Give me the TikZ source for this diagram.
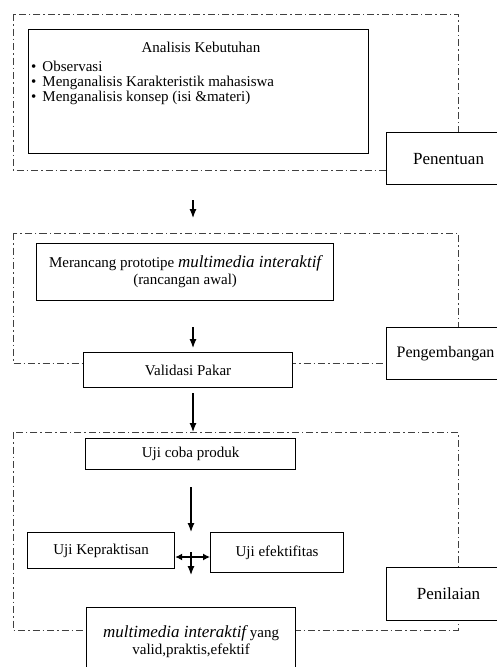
\documentclass[tikz,border=0pt]{standalone}
\usepackage{fontspec}
\setmainfont{Liberation Serif}
\usetikzlibrary{positioning, arrows.meta}

\begin{document}
\begin{tikzpicture}[x=1pt, y=-1pt,
    box/.style={draw, line width=1.2pt, fill=white, inner sep=0pt, align=center, font=\fontsize{15}{17}\selectfont},
    phase/.style={draw, line width=1.2pt, fill=white, inner sep=0pt, anchor=north west, minimum width=124, minimum height=52, font=\fontsize{17}{19}\selectfont},
    stage/.style={draw=black!75, line width=0.9pt, dash pattern=on 7pt off 3pt on 1.5pt off 3pt},
    flow/.style={-{Latex[length=9pt, width=7pt]}, line width=1.2pt},
    txt/.style={inner sep=0pt, font=\fontsize{15}{17}\selectfont}]

    \clip (0,0) rectangle (497,667);
    \useasboundingbox (0,0) rectangle (497,667);

    % Stages
    \draw[stage] (13,14) rectangle (458,170);
    \draw[stage] (13,233) rectangle (458,363);
    \draw[stage] (13,432) rectangle (458,630);

    % Phase labels
    \node[phase] (penentuan) at (386,132) {Penentuan};
    \node[phase, minimum width=118, font=\fontsize{16}{18}\selectfont] (pengembangan) at (386,327) {Pengembangan};
    \node[phase, minimum height=53] (penilaian) at (386,567) {Penilaian};

    % Analisis kebutuhan
    \node[box, anchor=north west, minimum width=340, minimum height=124] (kebutuhan) at (28,29) {};
    \node[txt] (kebutuhan title) at (201,47) {Analisis Kebutuhan};
    \node[txt, anchor=north west, align=left, font=\fontsize{15}{15}\selectfont] (kebutuhan list) at (31,61)
        {\textbullet\hspace{6pt}Observasi\\
         \textbullet\hspace{6pt}Menganalisis Karakteristik mahasiswa\\
         \textbullet\hspace{6pt}Menganalisis konsep (isi \&materi)};

    % Pengembangan
    \node[box, anchor=north west, minimum width=297, minimum height=57] (rancang) at (36,243)
        {Merancang prototipe {\fontsize{17}{18}\selectfont\itshape multimedia interaktif}\\(rancangan awal)};
    \node[box, anchor=north west, minimum width=209, minimum height=35] (validasi) at (83,352) {Validasi Pakar};

    % Penilaian
    \node[box, anchor=north west, minimum width=210, minimum height=31] (ujicoba) at (85,438) {Uji coba produk};
    \node[box, anchor=north west, minimum width=147, minimum height=36] (praktis) at (27,532) {Uji Kepraktisan};
    \node[box, anchor=north west, minimum width=133, minimum height=40] (efektif) at (210,532) {Uji efektifitas};
    \node[box, anchor=north west, minimum width=209, inner ysep=18pt] (hasil) at (86,607)
        {{\fontsize{17}{18}\selectfont\itshape multimedia interaktif} yang\\valid,praktis,efektif};

    % Flow
    \coordinate (a1) at (193,200);
    \coordinate (a2) at (193,218);
    \coordinate (b1) at (193,327);
    \coordinate (c1) at (193,393);
    \coordinate (c2) at (193,432);
    \coordinate (d1) at (191,487);
    \coordinate (e1) at (191,552);
    \coordinate (e2) at (191,575);
    \draw[flow] (a1) -- (a2);
    \draw[flow] (b1) -- ([yshift=4pt]validasi.north -| b1);
    \draw[flow] (c1) -- (c2);
    \draw[flow] (d1) -- (praktis.north -| d1);
    \draw[{Latex[length=7pt, width=7pt]}-{Latex[length=7pt, width=7pt]}, line width=1.2pt] (praktis.east |- 0,557) -- (efektif.west |- 0,557);
    \draw[flow] (e1) -- (e2);
\end{tikzpicture}
\end{document}
